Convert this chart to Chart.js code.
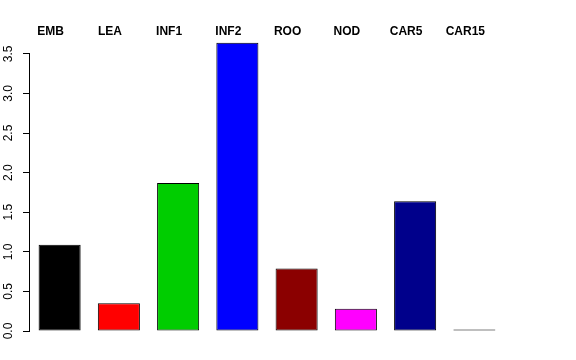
<!DOCTYPE html>
<html>
<head>
<meta charset="utf-8">
<script src="https://cdn.jsdelivr.net/npm/chart.js@4/dist/chart.umd.min.js"></script>
<style>
  body { margin: 0; background: #fff; }
  #wrap { width: 576px; height: 360px; }
</style>
</head>
<body>
<div id="wrap"><canvas id="chart" width="576" height="360"></canvas></div>
<script>
// tissue groups and their values
const categories = ['EMB', 'LEA', 'INF1', 'INF2', 'ROO', 'NOD', 'CAR5', 'CAR15'];
const values = [1.09, 0.35, 1.87, 3.64, 0.79, 0.28, 1.64, 0.018];
const barColors = ['#000000', '#FF0000', '#00CD00', '#0000FF', '#8B0000', '#FF00FF', '#00008B', '#333333'];

const fontFamily = '"Liberation Sans", Arial, Helvetica, sans-serif';

// R style axis line: only from first to last tick
const axisLinePlugin = {
    id: 'axisLine',
    afterDraw(chart) {
        const y = chart.scales.y;
        const ticks = y.ticks;
        const ctx = chart.ctx;
        const x = y.right - 0.5;
        ctx.save();
        ctx.strokeStyle = '#000';
        ctx.lineWidth = 1;
        ctx.beginPath();
        ctx.moveTo(x, y.getPixelForValue(ticks[0].value));
        ctx.lineTo(x, y.getPixelForValue(ticks[ticks.length - 1].value));
        ctx.stroke();
        ctx.restore();
    }
};

// group names written above the bars
const topLabelsPlugin = {
    id: 'topLabels',
    afterDraw(chart) {
        const xScale = chart.scales.x;
        const ctx = chart.ctx;
        ctx.save();
        ctx.fillStyle = '#000';
        ctx.font = 'bold 12px ' + fontFamily;
        ctx.textAlign = 'center';
        ctx.textBaseline = 'alphabetic';
        categories.forEach((name, i) => {
            ctx.fillText(name, xScale.getPixelForValue(i) - 9, 35);
        });
        ctx.restore();
    }
};

new Chart(document.getElementById('chart'), {
    type: 'bar',
    data: {
        labels: categories,
        datasets: [{
            data: values,
            backgroundColor: barColors,
            borderColor: '#000',
            borderWidth: 1,
            borderSkipped: false,
            barPercentage: 0.71,
            categoryPercentage: 1
        }]
    },
    options: {
        responsive: false,
        animation: false,
        layout: { padding: { left: 0, right: 72, top: 38, bottom: 29 } },
        plugins: {
            legend: { display: false },
            tooltip: { enabled: false }
        },
        scales: {
            x: { display: false },
            y: {
                min: 0,
                max: 3.7,
                afterFit: (scale) => { scale.width = 30; },
                border: { display: false },
                grid: {
                    drawOnChartArea: false,
                    drawTicks: true,
                    tickLength: 7,
                    color: '#000',
                    lineWidth: 1
                },
                ticks: {
                    stepSize: 0.5,
                    includeBounds: false,
                    minRotation: 90,
                    maxRotation: 90,
                    crossAlign: 'center',
                    padding: 6,
                    color: '#000',
                    font: { family: fontFamily, size: 12 },
                    callback: (v) => v.toFixed(1)
                }
            }
        }
    },
    plugins: [axisLinePlugin, topLabelsPlugin]
});
</script>
</body>
</html>
